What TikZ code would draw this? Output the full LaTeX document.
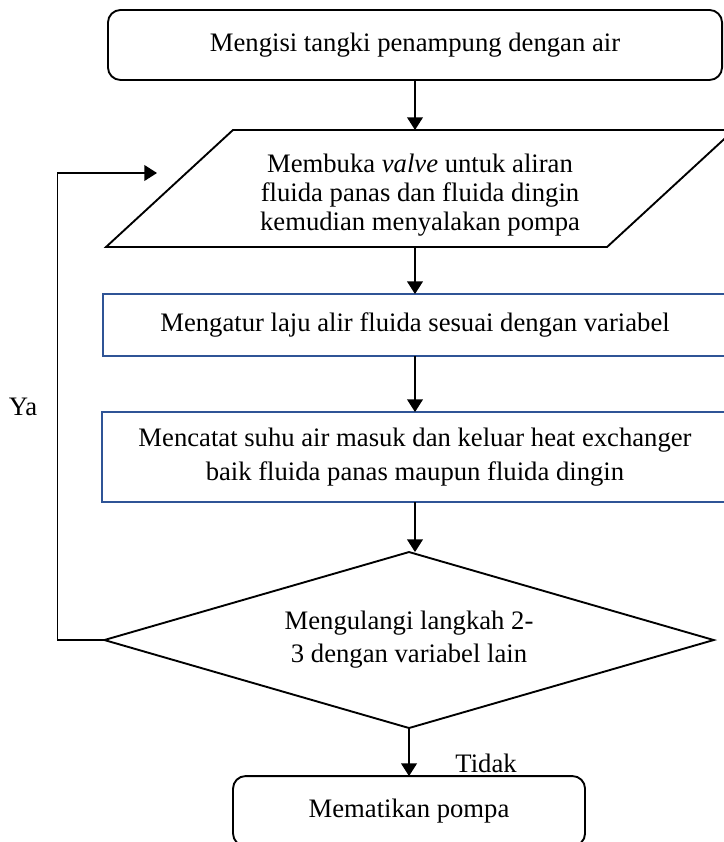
\documentclass[tikz,border=0pt]{standalone}
\usepackage{fontspec}
\setmainfont{Liberation Serif}
\usepackage{tikz}
\usetikzlibrary{arrows.meta,positioning,shapes.geometric}
\definecolor{BoxBlue}{HTML}{2F5496}

\begin{document}
\begin{tikzpicture}[
  font=\fontsize{12.7pt}{13.8pt}\selectfont,
  outer sep=0pt,
  term/.style={draw,line width=0.9pt,rounded corners=6pt,align=center,inner sep=0pt},
  inbox/.style={align=center,inner sep=0pt,minimum width=105.13mm,minimum height=19.59mm},
  slant/.style={line width=0.9pt},
  procbox/.style={draw=BoxBlue,line width=1.1pt,align=center,inner sep=0pt},
  decbox/.style={draw,line width=0.9pt,diamond,aspect=3.44,align=center,inner sep=0pt,
    minimum width=102mm,minimum height=29.46mm},
  arr/.style={-{Triangle[length=6pt,width=7.5pt]},line width=0.6pt}
]
\useasboundingbox (0,0) rectangle (121.03mm,-140.95mm);
\node[term,minimum width=102.8mm,minimum height=11.72mm] (start) at (69.47mm,-7.53mm) {Mengisi tangki penampung dengan air};
\node[inbox,below=8.37mm of start,xshift=0.84mm] (in) {\raisebox{-1.2mm}[\height][\depth]{\begin{tabular}{@{}c@{}}Membuka \textit{valve} untuk aliran\\fluida panas dan fluida dingin\\kemudian menyalakan pompa\end{tabular}}};
\draw[slant] (in.south west) -- ([xshift=-21.26mm]in.south east) -- (in.north east) -- ([xshift=21.26mm]in.north west) -- cycle;
\node[procbox,minimum width=104.46mm,minimum height=10.38mm,below=7.87mm of in,xshift=-0.84mm] (atur) {Mengatur laju alir fluida sesuai dengan variabel};
\node[procbox,minimum width=104.8mm,minimum height=15.07mm,below=9.37mm of atur] (catat) {Mencatat suhu air masuk dan keluar heat exchanger\\[0.8mm]baik fluida panas maupun fluida dingin};
\node[decbox,below=8.37mm of catat,xshift=-1mm] (ulang) {Mengulangi langkah 2-\\[0.7mm]3 dengan variabel lain};
\node[term,minimum width=58.93mm,minimum height=11.72mm,below=8.04mm of ulang] (stop) {Mematikan pompa};
\node (ya) at (3.85mm,-68.13mm) {Ya};
\node (tidak) at (81.36mm,-127.73mm) {Tidak};
\coordinate (back) at (26.28mm,-28.96mm);

\draw[arr] (start) -- (start |- in.north);
\draw[arr] (in.south -| atur) -- (atur);
\draw[arr] (atur) -- (catat);
\draw[arr] (catat) -- (catat |- ulang.north);
\draw[arr] (ulang) -- (stop);
\draw[arr] (ulang.west) -- ++(-7.86mm,0) |- (back);
\end{tikzpicture}
\end{document}
